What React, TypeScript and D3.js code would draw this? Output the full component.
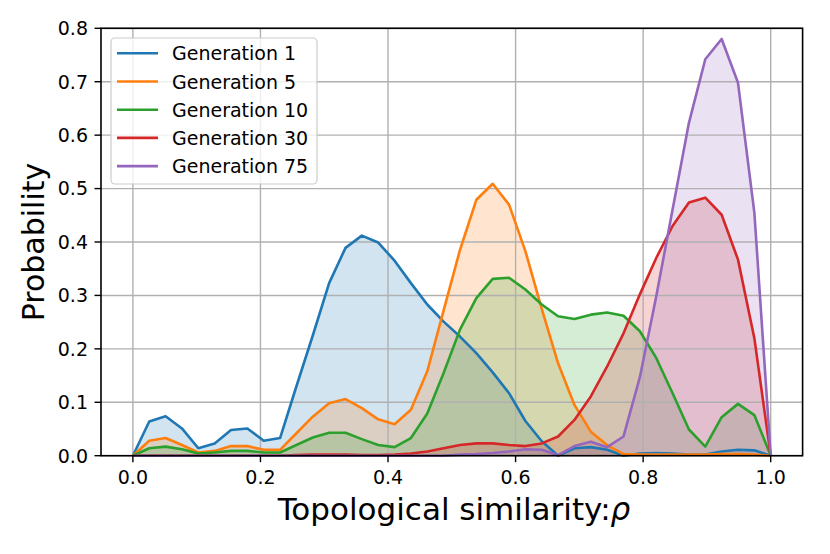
import * as d3 from 'd3'

// 40 evenly spaced similarity values, 0 .. 1
const rho = d3.range(40).map((i) => i / 39)

const gen1 = [0, 0.064, 0.074, 0.051, 0.014, 0.023, 0.048, 0.051, 0.028, 0.033, 0.13, 0.225, 0.323, 0.389, 0.412, 0.399, 0.365, 0.323, 0.283, 0.251, 0.223, 0.192, 0.156, 0.117, 0.065, 0.027, 0, 0.014, 0.016, 0.011, 0, 0.004, 0.005, 0.004, 0.002, 0.002, 0.008, 0.011, 0.01, 0]
const gen5 = [0, 0.028, 0.033, 0.02, 0.006, 0.009, 0.018, 0.018, 0.011, 0.011, 0.042, 0.073, 0.098, 0.106, 0.089, 0.068, 0.059, 0.086, 0.158, 0.272, 0.385, 0.479, 0.509, 0.47, 0.383, 0.275, 0.173, 0.095, 0.045, 0.02, 0.003, 0.002, 0.002, 0.002, 0.002, 0.002, 0.003, 0.003, 0.002, 0]
const gen10 = [0, 0.014, 0.017, 0.012, 0.004, 0.006, 0.009, 0.009, 0.006, 0.006, 0.02, 0.034, 0.043, 0.043, 0.031, 0.02, 0.016, 0.033, 0.079, 0.155, 0.236, 0.295, 0.331, 0.333, 0.311, 0.283, 0.261, 0.256, 0.264, 0.268, 0.262, 0.233, 0.183, 0.117, 0.049, 0.017, 0.072, 0.097, 0.076, 0]
const gen30 = [0, 0, 0, 0, 0, 0, 0, 0, 0, 0, 0.001, 0.002, 0.002, 0.002, 0.001, 0.001, 0.002, 0.004, 0.008, 0.014, 0.02, 0.023, 0.023, 0.02, 0.018, 0.023, 0.036, 0.067, 0.111, 0.167, 0.229, 0.302, 0.37, 0.43, 0.474, 0.483, 0.451, 0.367, 0.22, 0]
const gen75 = [0, 0, 0, 0, 0, 0, 0, 0, 0, 0, 0, 0, 0, 0, 0, 0, 0, 0, 0, 0, 0.002, 0.003, 0.005, 0.008, 0.012, 0.011, 0.001, 0.018, 0.026, 0.016, 0.036, 0.147, 0.298, 0.461, 0.623, 0.742, 0.78, 0.698, 0.455, 0]

const labels = ['Generation 1', 'Generation 5', 'Generation 10', 'Generation 30', 'Generation 75']
const colors = ['#1f77b4', '#ff7f0e', '#2ca02c', '#d62728', '#9467bd']
const seriesValues = [gen1, gen5, gen10, gen30, gen75]

const xTicks = [0, 0.2, 0.4, 0.6, 0.8, 1.0]
const yTicks = [0, 0.1, 0.2, 0.3, 0.4, 0.5, 0.6, 0.7, 0.8]

const W = 830
const H = 554
const L = 101
const R = 802.6
const T = 28.3
const B = 455.7
const FONT = 'DejaVu Sans, sans-serif'

export default function App() {
  const x = d3.scaleLinear().domain([-0.05, 1.05]).range([L, R])
  const y = d3.scaleLinear().domain([0, 0.8]).range([B, T])

  const line = d3.line<number>()
    .x((_, i) => x(rho[i]))
    .y((d) => y(d))
  const area = d3.area<number>()
    .x((_, i) => x(rho[i]))
    .y0(y(0))
    .y1((d) => y(d))

  return (
    <svg
      width={W}
      height={H}
      style={{ position: 'absolute', left: 0, top: 0, background: '#fff' }}
      fontFamily={FONT}
    >
      <rect x={0} y={0} width={W} height={H} fill="#fff" />

      {/* fills (zorder below grid) */}
      {seriesValues.map((vals, k) => (
        <path key={'a' + k} d={area(vals) ?? ''} fill={colors[k]} fillOpacity={0.2} />
      ))}

      {/* grid */}
      {xTicks.map((t) => (
        <line key={'gx' + t} x1={x(t)} x2={x(t)} y1={T} y2={B} stroke="#b0b0b0" strokeWidth={1.4} />
      ))}
      {yTicks.map((t) => (
        <line key={'gy' + t} x1={L} x2={R} y1={y(t)} y2={y(t)} stroke="#b0b0b0" strokeWidth={1.4} />
      ))}

      {/* lines */}
      {seriesValues.map((vals, k) => (
        <path
          key={'l' + k}
          d={line(vals) ?? ''}
          fill="none"
          stroke={colors[k]}
          strokeWidth={2.6}
          strokeLinejoin="round"
        />
      ))}

      {/* frame */}
      <rect x={L} y={T} width={R - L} height={B - T} fill="none" stroke="#000" strokeWidth={1.6} />

      {/* x ticks */}
      {xTicks.map((t) => (
        <g key={'xt' + t}>
          <line x1={x(t)} x2={x(t)} y1={B} y2={B + 6.5} stroke="#000" strokeWidth={1.4} />
          <text x={x(t)} y={484.3} textAnchor="middle" fontSize={19} fill="#000">
            {t.toFixed(1)}
          </text>
        </g>
      ))}

      {/* y ticks */}
      {yTicks.map((t) => (
        <g key={'yt' + t}>
          <line x1={L - 6.5} x2={L} y1={y(t)} y2={y(t)} stroke="#000" strokeWidth={1.4} />
          <text x={88} y={y(t) + 6.9} textAnchor="end" fontSize={19} fill="#000">
            {t.toFixed(1)}
          </text>
        </g>
      ))}

      {/* axis labels */}
      <text x={454} y={519.5} textAnchor="middle" fontSize={31} fill="#000">
        Topological similarity:<tspan fontStyle="italic">ρ</tspan>
      </text>
      <text
        transform={`translate(43.5, ${(T + B) / 2}) rotate(-90)`}
        textAnchor="middle"
        fontSize={30}
        fill="#000"
      >
        Probability
      </text>

      {/* legend */}
      <rect x={111} y={38} width={206} height={146} rx={4} fill="#fff" fillOpacity={0.8} stroke="#cccccc" strokeWidth={1.2} />
      {labels.map((lab, k) => {
        const cy = 53.3 + k * 28.2
        return (
          <g key={'lg' + k}>
            <line x1={117} x2={158} y1={cy} y2={cy} stroke={colors[k]} strokeWidth={2.6} />
            <text x={172} y={cy + 7} fontSize={19} fill="#000">
              {lab}
            </text>
          </g>
        )
      })}
    </svg>
  )
}
